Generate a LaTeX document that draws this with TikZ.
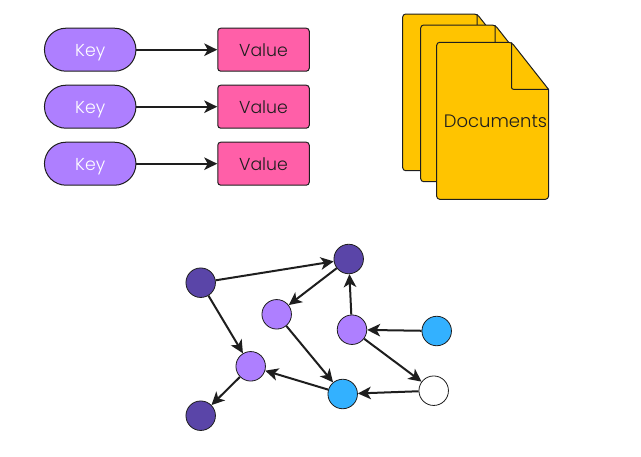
\documentclass[tikz,border=0pt]{standalone}
\usepackage{fontspec}
\setmainfont{Poppins}[UprightFont=* Light]
\usetikzlibrary{arrows.meta}
\definecolor{inkc}{HTML}{1E1E1E}
\definecolor{purpc}{HTML}{AE7FFF}
\definecolor{darkc}{HTML}{5A45A8}
\definecolor{bluec}{HTML}{33B1FF}
\definecolor{pinkc}{HTML}{FF5FA8}
\definecolor{yellc}{HTML}{FFC400}
\tikzset{
  labeltext/.style={font=\fontsize{17.3}{20}\selectfont,text height=14pt,text depth=0pt},
  keybox/.style={draw=inkc,line width=1pt,fill=purpc,text=white,rounded corners=21.5pt,minimum width=91.5pt,minimum height=43pt,inner sep=0pt,labeltext},
  valbox/.style={draw=inkc,line width=1pt,fill=pinkc,text=inkc,rounded corners=3pt,minimum width=91.5pt,minimum height=43pt,inner sep=0pt,labeltext},
  dot/.style={circle,draw=inkc,line width=0.8pt,minimum size=29.5pt,inner sep=0pt},
  link/.style={draw=inkc,line width=2pt,-{Stealth[length=13pt,width=12.5pt,inset=3.5pt]}},
  docpage/.style={draw=inkc,line width=1pt,fill=yellc,line join=round},
}
\newcommand{\docshape}[4]{% left, top, right, bottom
  \draw[docpage,rounded corners=3pt]
    (#1,#2) -- ({#3-37},#2) {[sharp corners] -- (#3,{#2+47})} -- (#3,#4) -- (#1,#4) -- cycle;
  \draw[docpage,fill=none,rounded corners=2pt] ({#3-37},#2) -- ({#3-37},{#2+47}) -- (#3,{#2+47});
}
\begin{document}
\begin{tikzpicture}[x=1pt,y=-1pt]
\useasboundingbox (0,0) rectangle (641,456);
\node[keybox] (k1) at (90.2,49.7) {Key};
\node[keybox] (k2) at (90.2,106.7) {Key};
\node[keybox] (k3) at (90.2,163.7) {Key};
\node[valbox] (v1) at (263.5,49.7) {Value};
\node[valbox] (v2) at (263.5,106.7) {Value};
\node[valbox] (v3) at (263.5,163.7) {Value};
\draw[link] (k1) -- (v1);
\draw[link] (k2) -- (v2);
\draw[link] (k3) -- (v3);
\docshape{402.7}{14}{514}{170.7}
\docshape{420.7}{25}{532}{181.7}
\docshape{436.7}{42.3}{548.5}{199.3}
\node[text=inkc,inner sep=0pt,labeltext,font=\fontsize{18}{20}\selectfont] (doc) at (495.5,120.7) {Documents};
\node[dot,fill=darkc] (a) at (200.7,282.7) {};
\node[dot,fill=darkc] (b) at (348.7,259) {};
\node[dot,fill=purpc] (c) at (276.7,314.3) {};
\node[dot,fill=purpc] (d) at (352,329.7) {};
\node[dot,fill=bluec] (e) at (436.7,331) {};
\node[dot,fill=purpc] (f) at (250.7,366.3) {};
\node[dot,fill=bluec] (g) at (342.7,394) {};
\node[dot,fill=white] (h) at (433.7,390.7) {};
\node[dot,fill=darkc] (i) at (200.7,415.7) {};
\draw[link] (a) -- (b);
\draw[link] (b) -- (c);
\draw[link] (d) -- (b);
\draw[link] (e) -- (d);
\draw[link] (d) -- (h);
\draw[link] (h) -- (g);
\draw[link] (c) -- (g);
\draw[link] (g) -- (f);
\draw[link] (a) -- (f);
\draw[link] (f) -- (i);
\end{tikzpicture}
\end{document}
